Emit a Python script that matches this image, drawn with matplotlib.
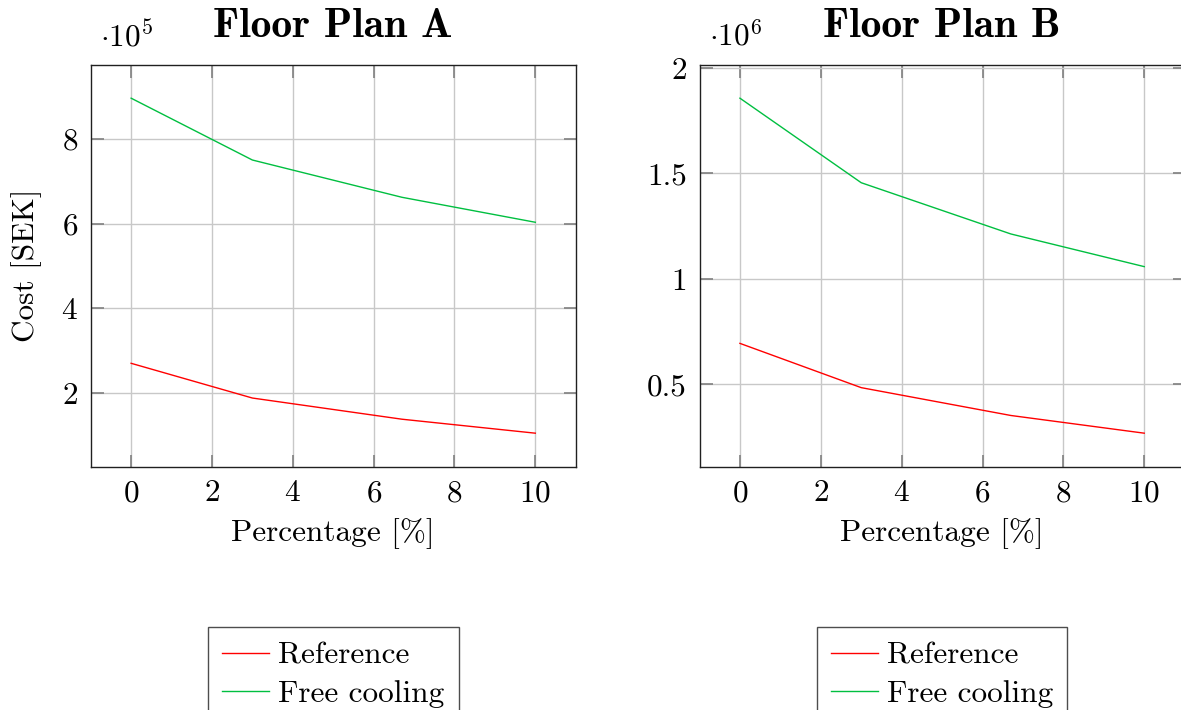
import numpy as np
import matplotlib
matplotlib.use('Agg')
import matplotlib.pyplot as plt

plt.rcParams['font.family'] = ['cmr10', 'DejaVu Serif']
plt.rcParams['mathtext.fontset'] = 'cm'
plt.rcParams['axes.formatter.use_mathtext'] = True

# data
pct = [0, 3, 6.7, 10]
ref_a = [2.70, 1.88, 1.38, 1.05]      # x 1e5 SEK
free_a = [8.96, 7.50, 6.62, 6.03]
ref_b = [0.693, 0.483, 0.351, 0.267]  # x 1e6 SEK
free_b = [1.856, 1.455, 1.212, 1.057]

titles = ['Floor Plan A', 'Floor Plan B']
mults = [r'$\cdot 10^{5}$', r'$\cdot 10^{6}$']
xticks = [0, 2, 4, 6, 8, 10]
yticks_a = [2, 4, 6, 8]
yticks_b = [0.5, 1, 1.5, 2]
yticklabels_b = ['0.5', '1', '1.5', '2']

red = '#ff0000'
green = '#00bf40'
fs = 22.5

fig = plt.figure(figsize=(11.81, 7.10), dpi=100)
ax1 = fig.add_axes([0.0768, 0.3427, 0.4107, 0.5662])
ax2 = fig.add_axes([0.5923, 0.3427, 0.4108, 0.5662])

for ax, ref, free, title, mult in [(ax1, ref_a, free_a, titles[0], mults[0]),
                                   (ax2, ref_b, free_b, titles[1], mults[1])]:
    ax.plot(pct, ref, c=red, lw=1.0, label='Reference')
    ax.plot(pct, free, c=green, lw=1.0, label='Free cooling')
    ax.set_xlim(-1, 11)
    lo, hi = min(ref), max(free)
    pad = 0.1 * (hi - lo)
    ax.set_ylim(lo - pad, hi + pad)
    ax.set_xticks(xticks)
    ax.grid(True, color='#c8c8c8', lw=1.0)
    ax.set_axisbelow(True)
    ax.tick_params(direction='in', length=9, width=1.2, color='#808080',
                   top=True, right=True, labelsize=fs, pad=9)
    for s in ax.spines.values():
        s.set_color('#202020')
        s.set_linewidth(1.0)
    ax.set_title(title, fontsize=30, family=['cmb10', 'DejaVu Serif'], pad=20)
    ax.text(0.02, 1.03, mult, transform=ax.transAxes, fontsize=fs,
            ha='left', va='bottom')
    ax.set_xlabel('Percentage [%]', fontsize=fs, labelpad=8)
    leg = ax.legend(loc='upper center', bbox_to_anchor=(0.5, -0.40), fontsize=fs,
                    frameon=True, fancybox=False, edgecolor='#202020',
                    handlelength=1.5, handletextpad=0.3, borderpad=0.45,
                    labelspacing=0.35, borderaxespad=0)
    leg.get_frame().set_linewidth(1.0)

ax1.set_yticks(yticks_a)
ax1.set_ylabel('Cost [SEK]', fontsize=fs, labelpad=14)
ax2.set_yticks(yticks_b)
ax2.set_yticklabels(yticklabels_b)

fig.savefig('out.png', dpi=100)
